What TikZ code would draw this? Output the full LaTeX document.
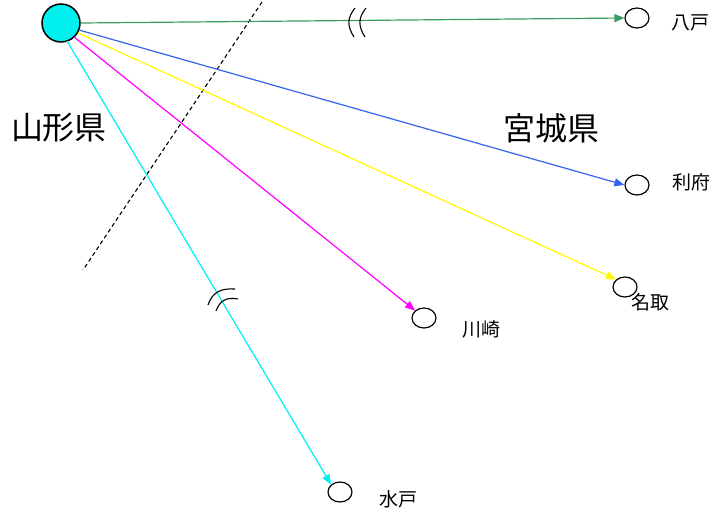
\documentclass[tikz,border=0pt]{standalone}
\usepackage{fontspec}
\newfontfamily\jp{Noto Sans CJK JP}
\usetikzlibrary{arrows.meta,shapes.geometric}
\definecolor{cgreen}{RGB}{60,155,100}
\definecolor{cblue}{RGB}{50,100,240}
\definecolor{cyel}{RGB}{255,250,0}
\definecolor{cmag}{RGB}{255,0,255}
\definecolor{ccyan}{RGB}{0,240,240}
\begin{document}
\begin{tikzpicture}[x=1pt,y=-1pt,
  town/.style={draw=black,line width=1.2pt,ellipse,minimum width=24pt,minimum height=20pt,inner sep=0pt},
  lbl/.style={font=\jp\fontsize{19}{19}\selectfont,inner sep=0pt},
  big/.style={font=\jp\fontsize{32}{32}\selectfont,inner sep=0pt},
  conn/.style={line width=1.2pt,-{Triangle[length=10pt,width=8pt]}},
  brk/.style={line width=1.1pt,black}]
\useasboundingbox (0,0) rectangle (716,517);
\node[circle,draw=black,line width=1.5pt,fill=ccyan,minimum size=38pt,inner sep=0pt] (src) at (61,23) {};
\node[town] (hachinohe) at (637,18) {};
\node[town] (rifu) at (637,185) {};
\node[town] (natori) at (625,287) {};
\node[town] (kawasaki) at (424,318) {};
\node[town] (mito) at (340,492) {};
\node[lbl] (l1) at (690,23) {八戸};
\node[lbl] (l2) at (691,182) {利府};
\node[lbl] (l3) at (650,302) {名取};
\node[lbl] (l4) at (481,329) {川崎};
\node[lbl] (l5) at (398,499) {水戸};
\node[big] (yamagata) at (59,128) {山形県};
\node[big] (miyagi) at (551,128) {宮城県};
\coordinate (d1) at (262,2);
\coordinate (d2) at (83,270);
\draw[line width=1.1pt,dash pattern=on 4pt off 3pt] (d1) -- (d2);
\draw[conn,cgreen] (src.east) -- (hachinohe.west);
\draw[conn,cblue] (src) ++(18,7) -- (rifu.west);
\draw[conn,cyel] (src) ++(17,10) -- (natori.north west);
\draw[conn,cmag] (src) ++(13,14) -- (kawasaki.north west);
\draw[conn,ccyan] (src) ++(6,18) -- (mito.north west);
\draw[brk] (355,8) .. controls (347,18) and (347,26) .. (354,37);
\draw[brk] (366,8) .. controls (358,18) and (358,26) .. (365,37);
\draw[brk] (208,305) .. controls (212,293) and (220,288) .. (235,289);
\draw[brk] (216,311) .. controls (220,300) and (227,297) .. (238,299);
\end{tikzpicture}
\end{document}
